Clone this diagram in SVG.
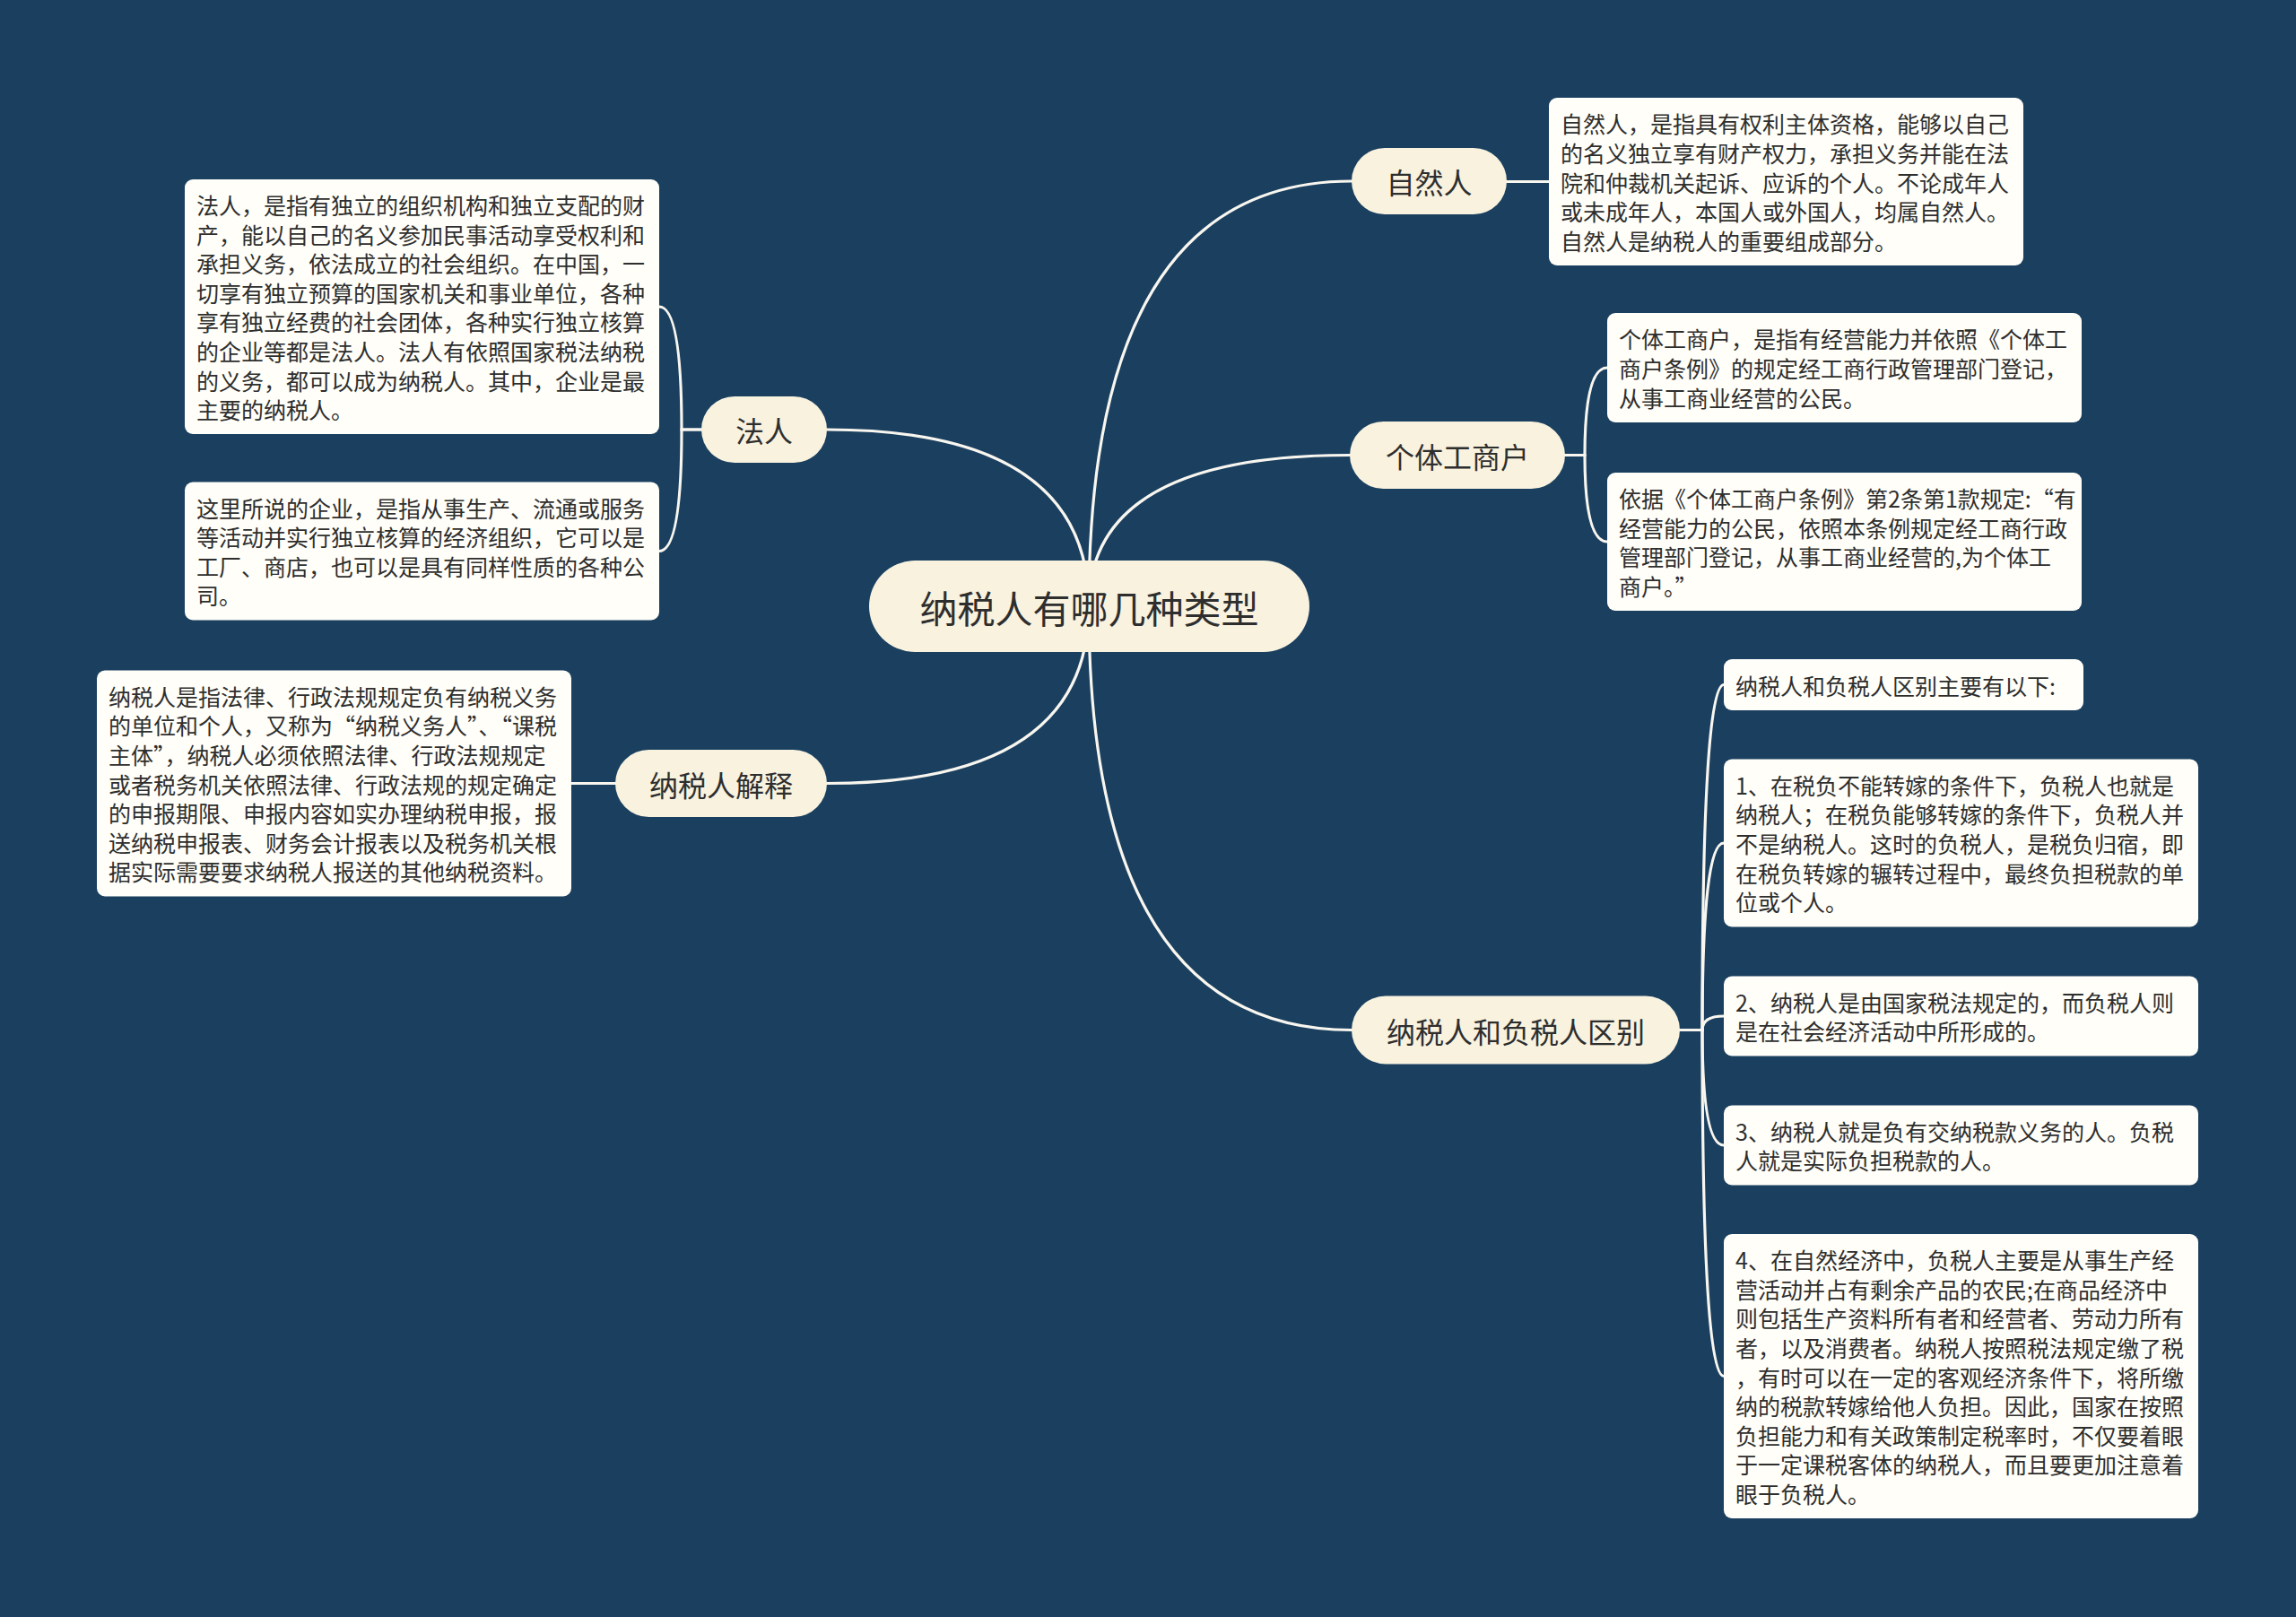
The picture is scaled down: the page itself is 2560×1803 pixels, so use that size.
<svg xmlns="http://www.w3.org/2000/svg" width="2560" height="1803" viewBox="0 0 2560 1803">
<style>
.bg{fill:#1a3f5f}
.conn{fill:none;stroke:#f8f6ef;stroke-width:3.2;stroke-linecap:round}
.root{fill:#f8f2df}
.branch{fill:#f8f2df}
.leaf{fill:#fffef8}
.t{font-family:"Noto Sans CJK SC","Noto Sans",sans-serif;fill:#2e2e2e;dominant-baseline:central}
.tr{font-size:42px;text-anchor:middle}
.tb{font-size:32px;text-anchor:middle}
.tl{font-size:25px}
</style>
<rect class="bg" x="0" y="0" width="2560" height="1803"/>
<g id="connectors">
<path class="conn" d="M1214 676 Q1214 202 1507 202"/>
<path class="conn" d="M1214 676 Q1214 507.5 1505 507.5"/>
<path class="conn" d="M1214 676 Q1214 1148.5 1507 1148.5"/>
<path class="conn" d="M1214 676 Q1214 479 922 479"/>
<path class="conn" d="M1214 676 Q1214 873.5 922 873.5"/>
<path class="conn" d="M1680 202.5 H1727"/>
<path class="conn" d="M686 873.5 H637"/>
<path class="conn" d="M1745 507.5 H1767 Q1767 410 1792 410"/>
<path class="conn" d="M1745 507.5 H1767 Q1767 604 1792 604"/>
<path class="conn" d="M782 479 H760 Q760 342 735 342"/>
<path class="conn" d="M782 479 H760 Q760 614.5 735 614.5"/>
<path class="conn" d="M1873 1148.5 H1898 Q1898 763.5 1922 763.5"/>
<path class="conn" d="M1873 1148.5 H1898 Q1898 940 1922 940"/>
<path class="conn" d="M1873 1148.5 H1898 Q1898 1133 1922 1133"/>
<path class="conn" d="M1873 1148.5 H1898 Q1898 1277 1922 1277"/>
<path class="conn" d="M1873 1148.5 H1898 Q1898 1534.5 1922 1534.5"/>
</g>
<g id="root">
<rect class="root" x="969" y="625" width="491" height="102" rx="51"/>
<text class="t tr" x="1214.5" y="676">纳税人有哪几种类型</text>
</g>
<g id="n-ziranren">
<rect class="branch" x="1507" y="165" width="173" height="74" rx="37"/>
<text class="t tb" x="1593.5" y="202">自然人</text>
</g>
<g id="n-getigongshanghu">
<rect class="branch" x="1505" y="470" width="240" height="75" rx="37.5"/>
<text class="t tb" x="1625" y="507.5">个体工商户</text>
</g>
<g id="n-faren">
<rect class="branch" x="782" y="442" width="140" height="74" rx="37"/>
<text class="t tb" x="852" y="479">法人</text>
</g>
<g id="n-jieshi">
<rect class="branch" x="686" y="836" width="236" height="75" rx="37.5"/>
<text class="t tb" x="804" y="873.5">纳税人解释</text>
</g>
<g id="n-qubie">
<rect class="branch" x="1507" y="1110.5" width="366" height="76" rx="38"/>
<text class="t tb" x="1690" y="1148.5">纳税人和负税人区别</text>
</g>
<g id="l-ziranren">
<rect class="leaf" x="1727" y="109" width="529" height="187" rx="9"/>
<text class="t tl" x="1740" y="137.3">自然人，是指具有权利主体资格，能够以自己</text>
<text class="t tl" x="1740" y="169.9">的名义独立享有财产权力，承担义务并能在法</text>
<text class="t tl" x="1740" y="202.5">院和仲裁机关起诉、应诉的个人。不论成年人</text>
<text class="t tl" x="1740" y="235.1">或未成年人，本国人或外国人，均属自然人。</text>
<text class="t tl" x="1740" y="267.7">自然人是纳税人的重要组成部分。</text>
</g>
<g id="l-geti-1">
<rect class="leaf" x="1792" y="349" width="529" height="122" rx="9"/>
<text class="t tl" x="1805" y="377.4">个体工商户，是指有经营能力并依照《个体工</text>
<text class="t tl" x="1805" y="410">商户条例》的规定经工商行政管理部门登记，</text>
<text class="t tl" x="1805" y="442.6">从事工商业经营的公民。</text>
</g>
<g id="l-geti-2">
<rect class="leaf" x="1792" y="527" width="529" height="154" rx="9"/>
<text class="t tl" x="1805" y="555.1">依据《个体工商户条例》第2条第1款规定:“有</text>
<text class="t tl" x="1805" y="587.7">经营能力的公民，依照本条例规定经工商行政</text>
<text class="t tl" x="1805" y="620.3">管理部门登记，从事工商业经营的,为个体工</text>
<text class="t tl" x="1805" y="652.9">商户。”</text>
</g>
<g id="l-faren-1">
<rect class="leaf" x="206" y="200" width="529" height="284" rx="9"/>
<text class="t tl" x="219" y="227.9">法人，是指有独立的组织机构和独立支配的财</text>
<text class="t tl" x="219" y="260.5">产，能以自己的名义参加民事活动享受权利和</text>
<text class="t tl" x="219" y="293.1">承担义务，依法成立的社会组织。在中国，一</text>
<text class="t tl" x="219" y="325.7">切享有独立预算的国家机关和事业单位，各种</text>
<text class="t tl" x="219" y="358.3">享有独立经费的社会团体，各种实行独立核算</text>
<text class="t tl" x="219" y="390.9">的企业等都是法人。法人有依照国家税法纳税</text>
<text class="t tl" x="219" y="423.5">的义务，都可以成为纳税人。其中，企业是最</text>
<text class="t tl" x="219" y="456.1">主要的纳税人。</text>
</g>
<g id="l-faren-2">
<rect class="leaf" x="206" y="537.5" width="529" height="154" rx="9"/>
<text class="t tl" x="219" y="565.6">这里所说的企业，是指从事生产、流通或服务</text>
<text class="t tl" x="219" y="598.2">等活动并实行独立核算的经济组织，它可以是</text>
<text class="t tl" x="219" y="630.8">工厂、商店，也可以是具有同样性质的各种公</text>
<text class="t tl" x="219" y="663.4">司。</text>
</g>
<g id="l-jieshi">
<rect class="leaf" x="108" y="747.5" width="529" height="252" rx="9"/>
<text class="t tl" x="121" y="775.7">纳税人是指法律、行政法规规定负有纳税义务</text>
<text class="t tl" x="121" y="808.3">的单位和个人，又称为“纳税义务人”、“课税</text>
<text class="t tl" x="121" y="840.9">主体”，纳税人必须依照法律、行政法规规定</text>
<text class="t tl" x="121" y="873.5">或者税务机关依照法律、行政法规的规定确定</text>
<text class="t tl" x="121" y="906.1">的申报期限、申报内容如实办理纳税申报，报</text>
<text class="t tl" x="121" y="938.7">送纳税申报表、财务会计报表以及税务机关根</text>
<text class="t tl" x="121" y="971.3">据实际需要要求纳税人报送的其他纳税资料。</text>
</g>
<g id="l-qubie-0">
<rect class="leaf" x="1922" y="735" width="401" height="57" rx="9"/>
<text class="t tl" x="1935" y="763.5">纳税人和负税人区别主要有以下:</text>
</g>
<g id="l-qubie-1">
<rect class="leaf" x="1922" y="846.5" width="529" height="187" rx="9"/>
<text class="t tl" x="1935" y="874.8">1、在税负不能转嫁的条件下，负税人也就是</text>
<text class="t tl" x="1935" y="907.4">纳税人；在税负能够转嫁的条件下，负税人并</text>
<text class="t tl" x="1935" y="940">不是纳税人。这时的负税人，是税负归宿，即</text>
<text class="t tl" x="1935" y="972.6">在税负转嫁的辗转过程中，最终负担税款的单</text>
<text class="t tl" x="1935" y="1005.2">位或个人。</text>
</g>
<g id="l-qubie-2">
<rect class="leaf" x="1922" y="1088.5" width="529" height="89" rx="9"/>
<text class="t tl" x="1935" y="1116.7">2、纳税人是由国家税法规定的，而负税人则</text>
<text class="t tl" x="1935" y="1149.3">是在社会经济活动中所形成的。</text>
</g>
<g id="l-qubie-3">
<rect class="leaf" x="1922" y="1232.5" width="529" height="89" rx="9"/>
<text class="t tl" x="1935" y="1260.7">3、纳税人就是负有交纳税款义务的人。负税</text>
<text class="t tl" x="1935" y="1293.3">人就是实际负担税款的人。</text>
</g>
<g id="l-qubie-4">
<rect class="leaf" x="1922" y="1376" width="529" height="317" rx="9"/>
<text class="t tl" x="1935" y="1404.1">4、在自然经济中，负税人主要是从事生产经</text>
<text class="t tl" x="1935" y="1436.7">营活动并占有剩余产品的农民;在商品经济中</text>
<text class="t tl" x="1935" y="1469.3">则包括生产资料所有者和经营者、劳动力所有</text>
<text class="t tl" x="1935" y="1501.9">者，以及消费者。纳税人按照税法规定缴了税</text>
<text class="t tl" x="1935" y="1534.5">，有时可以在一定的客观经济条件下，将所缴</text>
<text class="t tl" x="1935" y="1567.1">纳的税款转嫁给他人负担。因此，国家在按照</text>
<text class="t tl" x="1935" y="1599.7">负担能力和有关政策制定税率时，不仅要着眼</text>
<text class="t tl" x="1935" y="1632.3">于一定课税客体的纳税人，而且要更加注意着</text>
<text class="t tl" x="1935" y="1664.9">眼于负税人。</text>
</g>
</svg>
